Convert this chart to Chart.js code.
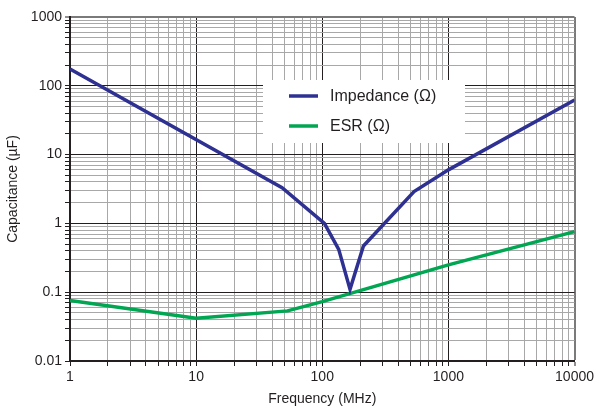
<!DOCTYPE html>
<html>
<head>
<meta charset="utf-8">
<script src="https://cdn.jsdelivr.net/npm/chart.js@4"></script>
<style>
  html, body { margin: 0; padding: 0; background: #fff; }
  #wrap { width: 597px; height: 410px; }
</style>
</head>
<body>
<div id="wrap"><canvas id="myChart" width="597" height="410"></canvas></div>
<script>
"use strict";

////// data
const freqImp = [1, 48, 104, 135, 166, 212, 534, 1000, 10000];
const impedance = [176, 3.3, 1.0, 0.42, 0.11, 0.47, 2.9, 6.0, 62];
const freqEsr = [1, 10, 53, 100, 1000, 10000];
const esr = [0.0755, 0.042, 0.0535, 0.073, 0.25, 0.76];

const xMajor = [1, 10, 100, 1000, 10000];
const yMajor = [0.01, 0.1, 1, 10, 100, 1000];
const seriesNames = ["Impedance (\u03A9)", "ESR (\u03A9)"];

const BLUE = "#2e3192";
const GREEN = "#00a651";
const INK = "#231f20";
const FONT = "'Liberation Sans', Arial, sans-serif";

////// helpers
const logTicks = function (majors) {
  const out = [];
  for (let i = 0; i < majors.length; i++) {
    const base = majors[i];
    if (i === majors.length - 1) {
      out.push({ value: base });
      break;
    }
    for (let m = 1; m <= 9; m++) out.push({ value: base * m });
  }
  return out;
};
const isMajor = (v, majors) => majors.some((m) => Math.abs(m - v) / m < 1e-6);

const gridColor = (majors) => (ctx) => {
  const v = ctx.tick && ctx.tick.value;
  if (v === majors[majors.length - 1]) return "#7a7a7a";
  return isMajor(v, majors) ? INK : "#a8a8a8";
};
const gridWidth = (majors) => (ctx) => {
  const v = ctx.tick && ctx.tick.value;
  return v === majors[majors.length - 1] ? 2 : 1;
};

////// legend drawn inside the plot
const boxLegend = {
  id: "boxLegend",
  afterDraw(chart) {
    const { ctx, chartArea } = chart;
    const x0 = chartArea.left + 193;
    const y0 = chartArea.top + 63;
    ctx.save();
    ctx.fillStyle = "#fff";
    ctx.fillRect(x0, y0, 202, 63);
    chart.data.datasets.forEach((ds, i) => {
      const y = y0 + 16 + i * 30;
      ctx.strokeStyle = ds.borderColor;
      ctx.lineWidth = 3.5;
      ctx.beginPath();
      ctx.moveTo(x0 + 26, y);
      ctx.lineTo(x0 + 55, y);
      ctx.stroke();
      ctx.fillStyle = INK;
      ctx.font = "16px " + FONT;
      ctx.textBaseline = "middle";
      ctx.fillText(ds.label, x0 + 67, y + 1);
    });
    ctx.restore();
  },
};

const ctx = document.getElementById("myChart");

new Chart(ctx, {
  type: "line",
  data: {
    datasets: [
      {
        label: seriesNames[0],
        data: freqImp.map((f, i) => ({ x: f, y: impedance[i] })),
        borderColor: BLUE,
        borderWidth: 3.5,
        pointRadius: 0,
        tension: 0,
      },
      {
        label: seriesNames[1],
        data: freqEsr.map((f, i) => ({ x: f, y: esr[i] })),
        borderColor: GREEN,
        borderWidth: 3.5,
        pointRadius: 0,
        tension: 0,
      },
    ],
  },
  options: {
    responsive: false,
    animation: false,
    devicePixelRatio: 1,
    layout: { padding: { top: 17, right: 21, left: 0, bottom: 0 } },
    plugins: {
      legend: { display: false },
      tooltip: { enabled: false },
    },
    scales: {
      x: {
        type: "logarithmic",
        min: 1,
        max: 10000,
        afterBuildTicks: (s) => { s.ticks = logTicks(xMajor); },
        afterFit: (s) => { s.height = 49; },
        ticks: {
          autoSkip: false,
          maxRotation: 0,
          color: INK,
          font: { family: FONT, size: 14 },
          padding: 3,
          callback: (v) => (isMajor(v, xMajor) ? String(v) : ""),
        },
        grid: {
          color: gridColor(xMajor),
          lineWidth: gridWidth(xMajor),
          tickLength: 5,
          tickColor: INK,
          tickWidth: 1,
        },
        border: { color: INK, width: 2 },
        title: {
          display: true,
          text: "Frequency (MHz)",
          color: INK,
          font: { family: FONT, size: 14 },
          padding: { top: 0, bottom: 2 },
        },
      },
      y: {
        type: "logarithmic",
        min: 0.01,
        max: 1000,
        afterBuildTicks: (s) => { s.ticks = logTicks(yMajor); },
        afterFit: (s) => { s.width = 70; },
        ticks: {
          autoSkip: false,
          color: INK,
          font: { family: FONT, size: 14 },
          padding: 3,
          callback: (v) => (isMajor(v, yMajor) ? String(v) : ""),
        },
        grid: {
          color: gridColor(yMajor),
          lineWidth: gridWidth(yMajor),
          tickLength: 5,
          tickColor: INK,
          tickWidth: 1,
        },
        border: { color: INK, width: 2 },
        title: {
          display: true,
          text: "Capacitance (\u00B5F)",
          color: INK,
          font: { family: FONT, size: 14 },
          padding: { top: 5, bottom: 0 },
        },
      },
    },
  },
  plugins: [boxLegend],
});
</script>
</body>
</html>
